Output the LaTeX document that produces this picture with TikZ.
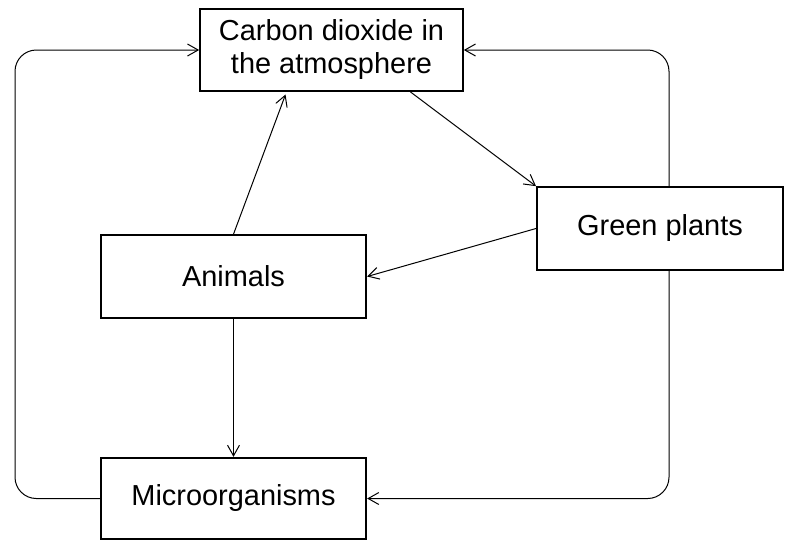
\documentclass[tikz,border=0pt]{standalone}
\usepackage{fontspec}
\setmainfont{Liberation Sans}
\usepackage{tikz}
\usetikzlibrary{positioning,arrows.meta,calc}
\tikzset{
  cyclebox/.style={draw,line width=1.5pt,align=center,inner sep=2pt,
    font=\fontsize{21.7pt}{24.75pt}\selectfont},
  flow/.style={draw,line width=0.75pt,-{Straight Barb[length=8pt,width=9pt]}},
}

\begin{document}
\begin{tikzpicture}[x=0.75pt,y=-0.75pt]
\useasboundingbox (0,0) rectangle (795,540);

\node[cyclebox,minimum width=197pt,minimum height=61.5pt] (co2) at (331.5,50) {Carbon dioxide in\\the atmosphere};
\node[cyclebox,minimum width=184.5pt,minimum height=62pt] (plants) at (660,228.5) {Green plants};
\node[cyclebox,minimum width=199pt,minimum height=62pt] (animals) at (233.5,276.5) {Animals};
\node[cyclebox,minimum width=199pt,minimum height=61pt] (micro) at (233.5,498.5) {Microorganisms};

\coordinate (lft) at (15,275);
\coordinate (rgt) at (669,275);

\path
(co2.-28) edge[flow] (plants.north west)
(plants.west) edge[flow] (animals.east)
(animals.north) edge[flow,shorten >=2pt] (co2.-137)
(animals.south) edge[flow] (micro.north);

\draw[flow,rounded corners=16pt] (micro.west) -| (lft) |- (co2.west);
\draw[flow,rounded corners=16pt] (rgt |- plants.north) |- (co2.east);
\draw[flow,rounded corners=16pt] (rgt |- plants.south) |- (micro.east);

\end{tikzpicture}
\end{document}
